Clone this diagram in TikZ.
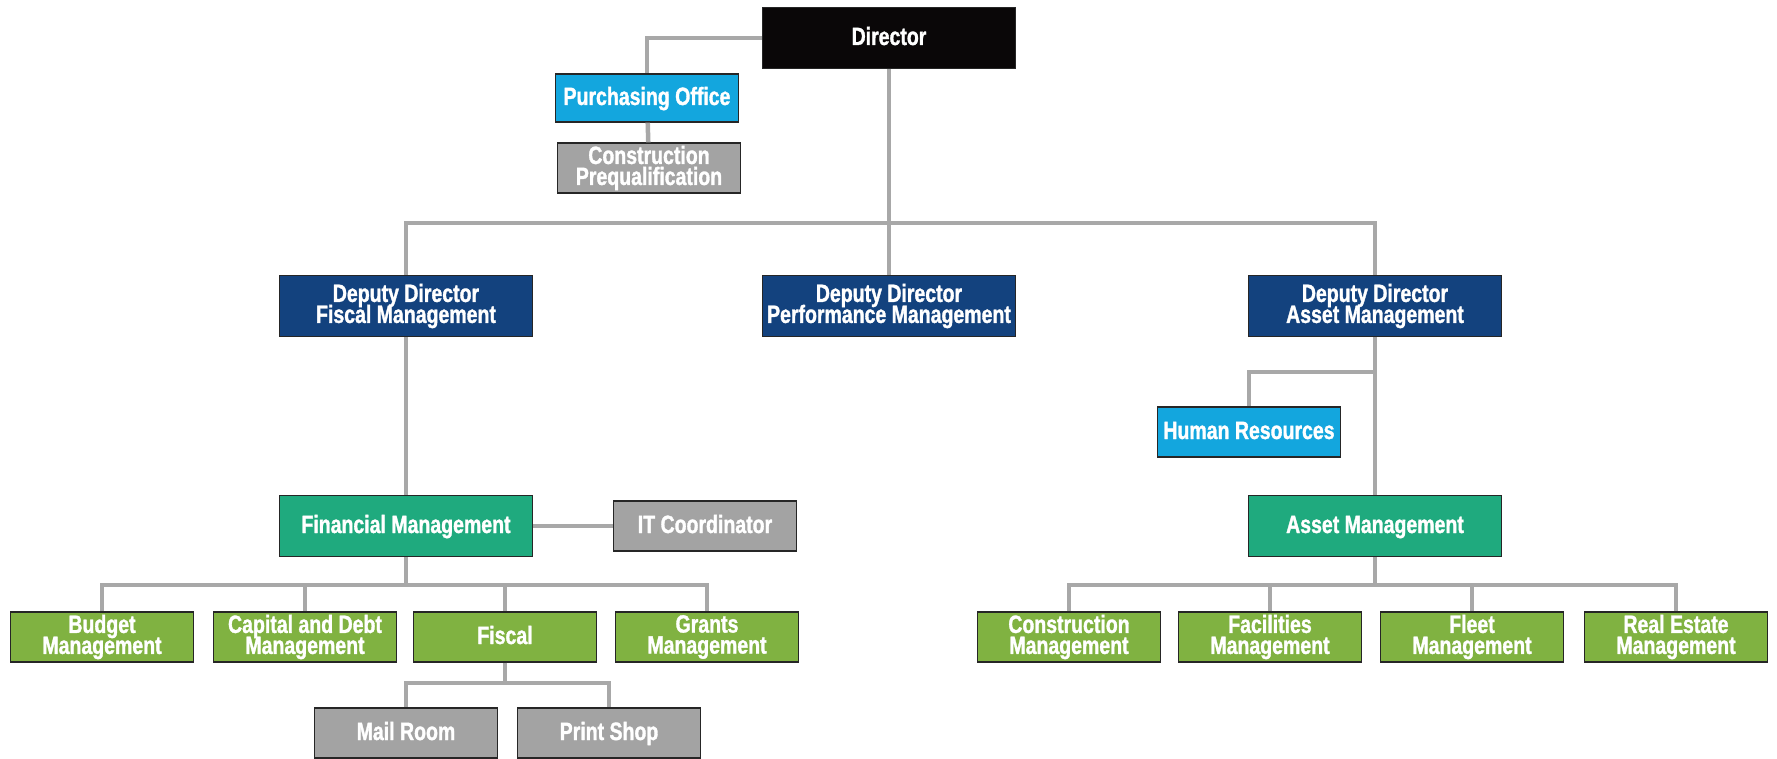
\documentclass[tikz,border=0pt]{standalone}
\usepackage{fontspec}
\setmainfont{Liberation Sans}[FakeStretch=0.78, FakeBold=1.3]
\usepackage{tikz}

\definecolor{dirblack}{HTML}{0A0708}
\definecolor{officeblue}{HTML}{13A6DE}
\definecolor{unitgray}{HTML}{A3A3A3}
\definecolor{deputyblue}{HTML}{13427E}
\definecolor{divgreen}{HTML}{1FAA7E}
\definecolor{sectgreen}{HTML}{80B241}
\definecolor{linkgray}{HTML}{A8A8A8}

% tight two-line labels
\newcommand{\boxfont}{\fontsize{25}{21}\selectfont\bfseries\setlength{\lineskiplimit}{-30pt}}

\begin{document}
\begin{tikzpicture}
[
    x = 1pt, y = -1pt,
    box/.style = {draw = black!85, line width = 1.3pt, text = white, align = center,
        inner sep = 0pt, font = \boxfont},
    big/.style = {box, minimum width = 253pt, minimum height = 61pt},
    small/.style = {box, minimum width = 183pt, minimum height = 50pt},
    single/.style = {text height = 18pt, text depth = 4pt},
    link/.style = {draw = linkgray, line width = 4.5pt},
]
\useasboundingbox (0,0) rectangle (1777,759);

% top of the chart
\node[big, single, fill = dirblack] (dir) at (889,38) {Director};
\node[small, single, fill = officeblue, minimum height = 48pt] (purch) at (647,98) {Purchasing Office};
\node[small, fill = unitgray] (prequal) at (649,168) {Construction\\Prequalification};

% deputies
\node[big, fill = deputyblue] (dfis) at (406,306) {Deputy Director\\Fiscal Management};
\node[big, fill = deputyblue] (dperf) at (889,306) {Deputy Director\\Performance Management};
\node[big, fill = deputyblue] (dasset) at (1375,306) {Deputy Director\\Asset Management};

% fiscal side
\node[big, single, fill = divgreen] (finm) at (406,526) {Financial Management};
\node[small, single, fill = unitgray] (itc) at (705,526) {IT Coordinator};
\node[small, fill = sectgreen] (budget) at (102,637) {Budget\\Management};
\node[small, fill = sectgreen] (capdebt) at (305,637) {Capital and Debt\\Management};
\node[small, single, fill = sectgreen] (fiscal) at (505,637) {Fiscal};
\node[small, fill = sectgreen] (grants) at (707,637) {Grants\\Management};
\node[small, single, fill = unitgray] (mail) at (406,733) {Mail Room};
\node[small, single, fill = unitgray] (print) at (609,733) {Print Shop};

% asset side
\node[small, single, fill = officeblue] (hr) at (1249,432) {Human Resources};
\node[big, single, fill = divgreen] (assetm) at (1375,526) {Asset Management};
\node[small, fill = sectgreen] (conmgmt) at (1069,637) {Construction\\Management};
\node[small, fill = sectgreen] (facil) at (1270,637) {Facilities\\Management};
\node[small, fill = sectgreen] (fleet) at (1472,637) {Fleet\\Management};
\node[small, fill = sectgreen] (realest) at (1676,637) {Real Estate\\Management};

\coordinate (fbus) at (406,585);
\coordinate (fisbus) at (505,683);
\coordinate (hrfork) at (1375,372);
\coordinate (abus) at (1375,585);

\draw[link] (dir.west) -| (purch.north);
\draw[link] (purch) -- (prequal);
\draw[link] (dir.south) -- (dperf.north);
\draw[link] (dfis.north) -- ++(0,-52) -| (dasset.north);

\draw[link] (dfis.south) -- (finm.north);
\draw[link] (finm.east) -- (itc.west);
\draw[link] (finm.south) -- (fbus);
\foreach \unit in {budget, capdebt, fiscal, grants}
    \draw[link] (fbus) -| (\unit.north);
\draw[link] (fiscal.south) -- (fisbus);
\foreach \unit in {mail, print}
    \draw[link] (fisbus) -| (\unit.north);

\draw[link] (dasset.south) -- (assetm.north);
\draw[link] (hrfork) -| (hr.north);
\draw[link] (assetm.south) -- (abus);
\foreach \unit in {conmgmt, facil, fleet, realest}
    \draw[link] (abus) -| (\unit.north);
\end{tikzpicture}
\end{document}
